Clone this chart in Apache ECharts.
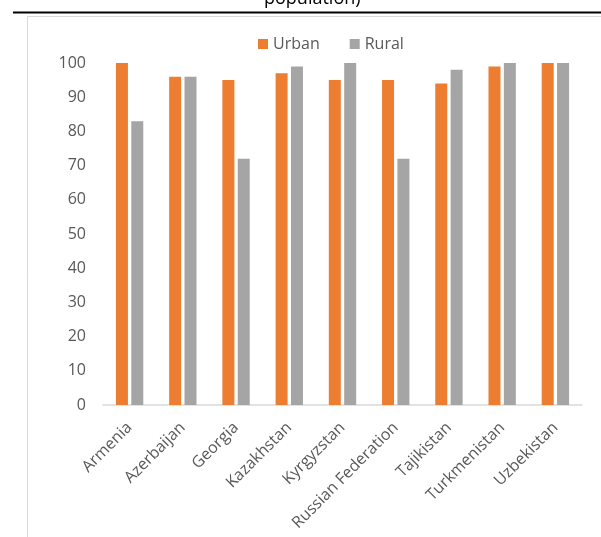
<!DOCTYPE html>
<html>
<head>
<meta charset="utf-8">
<script src="https://cdn.jsdelivr.net/npm/echarts@6/dist/echarts.min.js"></script>
<style>
  html, body { margin: 0; padding: 0; background: #ffffff; }
  #chart { width: 601px; height: 537px; }
</style>
</head>
<body>
<div id="chart"></div>
<script>
// Share of population by area type, per country (%)
const countries = ['Armenia', 'Azerbaijan', 'Georgia', 'Kazakhstan', 'Kyrgyzstan',
  'Russian Federation', 'Tajikistan', 'Turkmenistan', 'Uzbekistan'];
const urban = [100, 96, 95, 97, 95, 95, 94, 99, 100];
const rural = [83, 96, 72, 99, 100, 72, 98, 100, 100];
const yTicks = { min: 0, max: 100, interval: 10 };

const FONT = '"Open Sans", sans-serif';
const TEXT = '#595959';

const chart = echarts.init(document.getElementById('chart'), null, { renderer: 'canvas' });

chart.setOption({
  animation: false,
  backgroundColor: '#ffffff',
  textStyle: { fontFamily: FONT },
  graphic: [
    {
      type: 'text',
      left: 264,
      top: -10,
      style: { text: 'population)', font: '18px ' + FONT, fill: '#000000' }
    },
    {
      type: 'line',
      shape: { x1: 13, y1: 12.5, x2: 601, y2: 12.5 },
      style: { stroke: '#000000', lineWidth: 2 }
    },
    {
      type: 'rect',
      shape: { x: 27.5, y: 16.5, width: 700, height: 700 },
      style: { fill: 'none', stroke: '#d9d9d9', lineWidth: 1 }
    }
  ],
  legend: {
    left: 253,
    top: 31,
    itemWidth: 10,
    itemHeight: 10,
    itemGap: 30,
    icon: 'rect',
    textStyle: { fontFamily: FONT, fontSize: 16, color: TEXT },
    data: ['Urban', 'Rural']
  },
  grid: { left: 103, right: 19, top: 63, bottom: 132 },
  xAxis: {
    type: 'category',
    data: countries,
    axisLine: { lineStyle: { color: '#d9d9d9', width: 1.5 } },
    axisTick: { show: false },
    axisLabel: {
      rotate: 45,
      interval: 0,
      margin: 20,
      fontFamily: FONT,
      fontSize: 16,
      color: TEXT
    }
  },
  yAxis: {
    type: 'value',
    min: yTicks.min,
    max: yTicks.max,
    interval: yTicks.interval,
    axisLine: { show: false },
    axisTick: { show: false },
    splitLine: { show: false },
    axisLabel: { margin: 17, fontFamily: FONT, fontSize: 16, color: TEXT }
  },
  series: [
    {
      name: 'Urban',
      type: 'bar',
      data: urban,
      barWidth: 12,
      barGap: '28%',
      itemStyle: { color: '#ED7D31' }
    },
    {
      name: 'Rural',
      type: 'bar',
      data: rural,
      barWidth: 12,
      itemStyle: { color: '#A5A5A5' }
    }
  ]
});
</script>
</body>
</html>
